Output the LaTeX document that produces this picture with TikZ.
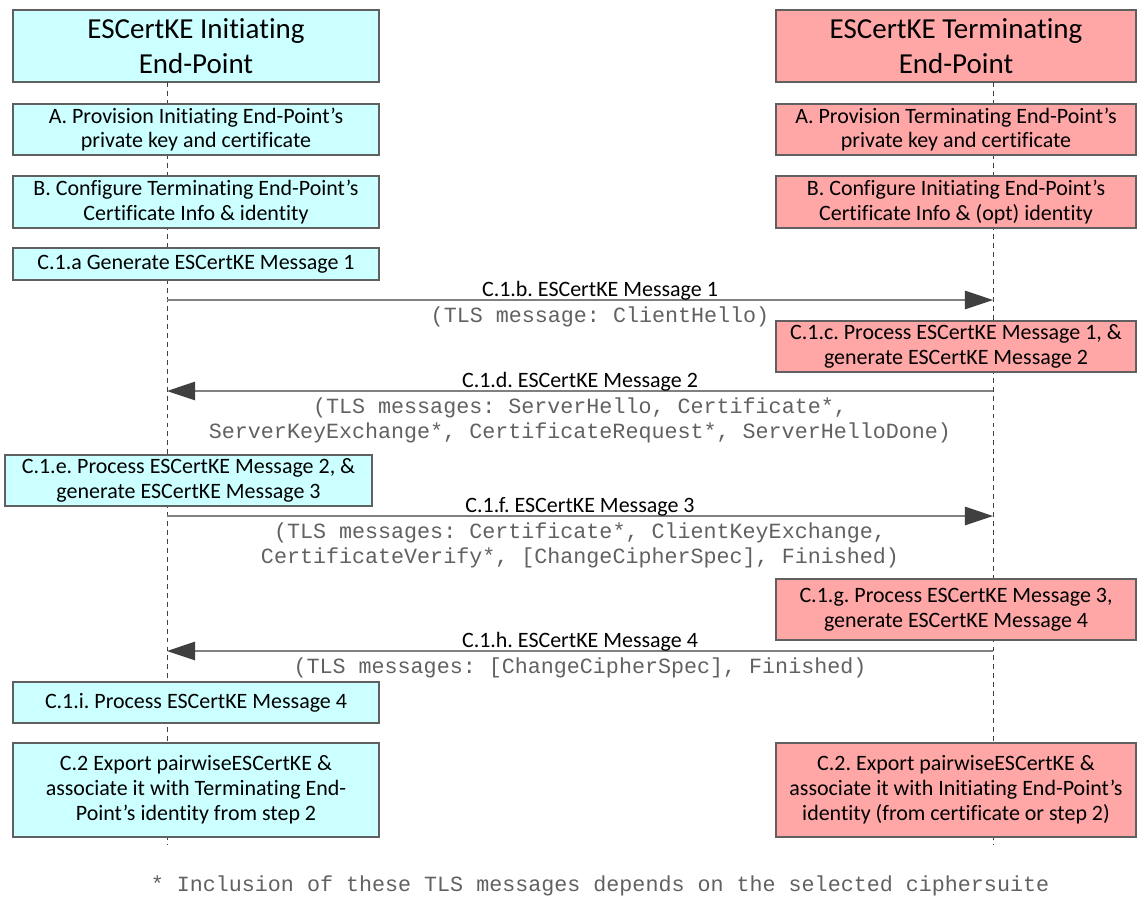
\documentclass[tikz,border=0pt]{standalone}
\usepackage{fontspec}
\setmainfont{Carlito}[Ligatures=NoCommon]
\setmonofont{Liberation Mono}
\usepackage{tikz}
\usetikzlibrary{positioning, arrows.meta}
\frenchspacing

\definecolor{initcyan}{RGB}{204,255,255}
\definecolor{termpink}{RGB}{255,166,166}
\definecolor{edgegray}{RGB}{96,96,96}
\definecolor{msggray}{RGB}{128,128,128}
\definecolor{tipgray}{RGB}{64,64,64}

\tikzset{
  initbox/.style={draw=edgegray, line width=0.8pt, fill=initcyan, align=center, inner sep=0pt,
    minimum width=7.32cm, font=\fontsize{12.5}{14.2}\selectfont},
  termbox/.style={initbox, fill=termpink, minimum width=7.2cm},
  headfont/.style={font=\fontsize{16.5}{19.9}\selectfont, minimum height=1.44cm},
  lifeline/.style={draw=black!75, line width=0.5pt, dash pattern=on 2.8pt off 2.3pt},
  msg/.style={draw=msggray, line width=0.9pt, -{Triangle[length=16pt, width=10.5pt, color=tipgray]}},
  msglabel/.style={font=\fontsize{12.5}{14.2}\selectfont, anchor=base, inner sep=0pt},
  tlstext/.style={font=\ttfamily\fontsize{12.35}{14.2}\selectfont, align=center, anchor=north,
    inner sep=0pt, text=black!62}
}

\begin{document}
\begin{tikzpicture}[x=0.02cm, y=-0.02cm]

\useasboundingbox (0,0) rectangle (1138,907);

\node[initbox, headfont] (inithead) at (196,46) {ESCertKE Initiating\\End-Point};
\node[termbox, headfont] (termhead) at (956,46) {ESCertKE Terminating\\End-Point};

\coordinate (inittop) at (167,82);
\coordinate (initend) at (167,845);
\coordinate (termtop) at (993,82);
\coordinate (termend) at (993,845);
\draw[lifeline] (inittop) -- (initend);
\draw[lifeline] (termtop) -- (termend);

% set-up steps
\node[initbox, minimum height=1.02cm] (initA) at (196,129.5) {A. Provision Initiating End-Point’s\\private key and certificate};
\node[termbox, minimum height=1.02cm] (termA) at (956,129.5) {A. Provision Terminating End-Point’s\\private key and certificate};
\node[initbox, minimum height=1.04cm] (initB) at (196,202) {B. Configure Terminating End-Point’s\\Certificate Info \& identity};
\node[termbox, minimum height=1.04cm] (termB) at (956,202) {B. Configure Initiating End-Point’s\\Certificate Info \& (opt) identity};

% exchange
\node[initbox, minimum height=0.64cm] (genone) at (196,264) {C.1.a Generate ESCertKE Message 1};
\node[termbox, minimum height=1.02cm] (procone) at (956,346.5) {C.1.c. Process ESCertKE Message 1, \&\\generate ESCertKE Message 2};
\node[initbox, minimum height=1.02cm, minimum width=7.34cm] (proctwo) at (188.5,480.5) {C.1.e. Process ESCertKE Message 2, \&\\generate ESCertKE Message 3};
\node[termbox, minimum height=1.22cm] (procthree) at (956,609.5) {C.1.g. Process ESCertKE Message 3,\\generate ESCertKE Message 4};
\node[initbox, minimum height=0.82cm] (procfour) at (196,702.5) {C.1.i. Process ESCertKE Message 4};

\foreach \n/\y in {1/300, 2/391, 3/516, 4/651} {
  \coordinate (i\n) at (167,\y);
  \coordinate (t\n) at (993,\y);
}

\draw[msg] (i1) -- (t1);
\draw[msg] (t2) -- (i2);
\draw[msg] (i3) -- (t3);
\draw[msg] (t4) -- (i4);

\node[msglabel] (lab1) at (600,296) {C.1.b. ESCertKE Message 1};
\node[tlstext] (tls1) at (600,306) {(TLS message: ClientHello)};
\node[msglabel] (lab2) at (580,387) {C.1.d. ESCertKE Message 2};
\node[tlstext] (tls2) at (580,397) {(TLS messages: ServerHello, Certificate*,\\ServerKeyExchange*, CertificateRequest*, ServerHelloDone)};
\node[msglabel] (lab3) at (580,512) {C.1.f. ESCertKE Message 3};
\node[tlstext] (tls3) at (580,522) {(TLS messages: Certificate*, ClientKeyExchange,\\CertificateVerify*, [ChangeCipherSpec], Finished)};
\node[msglabel] (lab4) at (580,647) {C.1.h. ESCertKE Message 4};
\node[tlstext] (tls4) at (580,657) {(TLS messages: [ChangeCipherSpec], Finished)};

% export
\node[initbox, minimum height=1.88cm] (initexp) at (196,790) {C.2 Export pairwiseESCertKE \&\\associate it with Terminating End-\\Point’s identity from step 2};
\node[termbox, minimum height=1.88cm] (termexp) at (956,790) {C.2. Export pairwiseESCertKE \&\\associate it with Initiating End-Point’s\\identity (from certificate or step 2)};

\node[tlstext, anchor=base] (note) at (600,891) {* Inclusion of these TLS messages depends on the selected ciphersuite};

\end{tikzpicture}
\end{document}
